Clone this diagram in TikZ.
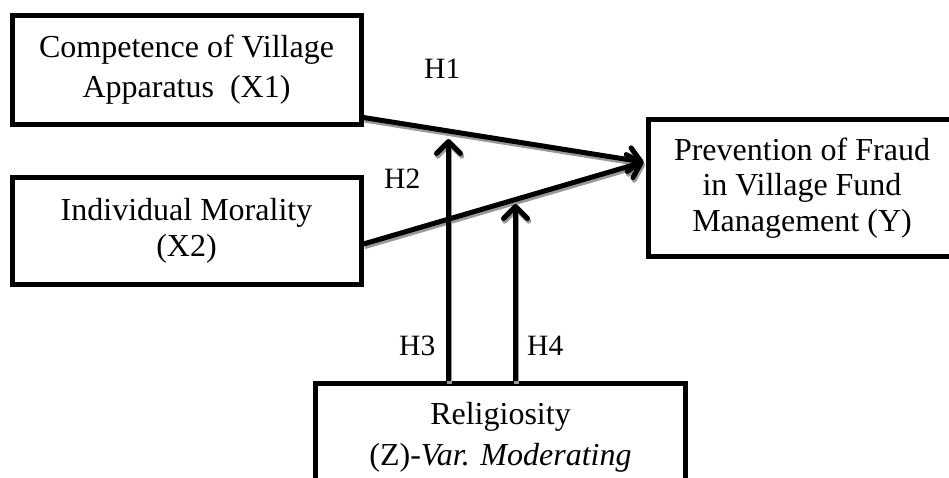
\documentclass[tikz,border=0pt]{standalone}
\usepackage{fontspec}
\setmainfont{Liberation Serif}
\usetikzlibrary{arrows.meta,calc}
\begin{document}
\begin{tikzpicture}[x=1pt,y=-1pt,
  box/.style={draw=black,line width=5pt,rectangle,align=center,inner sep=0pt,
    font=\fontsize{32}{35.5}\selectfont},
  hlabel/.style={anchor=base west,inner sep=0pt,font=\fontsize{29.5}{34}\selectfont},
  conn/.style={draw=black,line width=5pt,-{Straight Barb[length=12pt,width=24pt,line join=round,line cap=round]}},
  connshadow/.style={draw=black!40,line width=5pt,-{Straight Barb[length=12pt,width=24pt,line join=round,line cap=round]},
    transform canvas={xshift=1.2pt,yshift=-2.6pt}}
]
\useasboundingbox (0,0) rectangle (949,477);
\fill[white] (0,0) rectangle (949,477);

% boxes
\node[box,minimum width=349pt,minimum height=108.5pt] (X1) at (186.5,69.75)
  {Competence of Village\\[5pt]Apparatus~~(X1)};
\node[box,minimum width=349pt,minimum height=107pt] (X2) at (186.5,231)
  {Individual Morality\\(X2)};
\node[box,minimum width=308pt,minimum height=137pt] (Y) at (802,188)
  {Prevention of Fraud\\in Village Fund\\Management (Y)};
\node[box,minimum width=370pt,minimum height=107.5pt] (Z) at (500.5,437.5)
  {Religiosity\\[5pt](Z)-\textit{Var. Moderating}};

% connector end points
\coordinate (a1) at ([yshift=9pt]X1.south east);
\coordinate (a2) at ([yshift=-13pt]X2.east);
\coordinate (yt) at ([xshift=-2pt,yshift=26pt]Y.west);
\coordinate (m1) at (448.5,139);
\coordinate (m2) at (515.5,204);
\coordinate (z1) at ([xshift=-52pt]Z.north);
\coordinate (z2) at ([xshift=15pt]Z.north);

% shadows
\draw[connshadow] (a1) -- (yt);
\draw[connshadow] (a2) -- (yt);
\draw[connshadow] (z1) -- (m1);
\draw[connshadow] (z2) -- (m2);

% connectors
\draw[conn] (a1) -- (yt);
\draw[conn] (a2) -- (yt);
\draw[conn] (z1) -- (m1);
\draw[conn] (z2) -- (m2);

% labels
\node[hlabel] (h1) at (424,78) {H1};
\node[hlabel] (h2) at (384,188) {H2};
\node[hlabel] (h3) at (399,355) {H3};
\node[hlabel] (h4) at (527,355) {H4};
\end{tikzpicture}
\end{document}
